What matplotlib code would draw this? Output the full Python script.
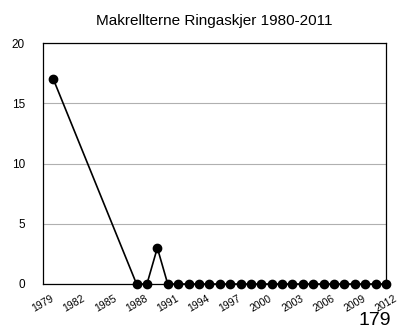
import numpy as np
import matplotlib.pyplot as plt

plt.rcParams['font.family'] = ['Liberation Sans', 'DejaVu Sans']

# counts per year
years = [1980, 1988, 1989, 1990] + list(range(1991, 2013))
counts = [17, 0, 0, 3] + [0] * 22
xtick_years = list(range(1979, 2013, 3))
ytick_vals = [0, 5, 10, 15, 20]

fig = plt.figure(figsize=(3.98, 3.32), dpi=100)
ax = fig.add_axes([0.108, 0.1446, 0.862, 0.7254])

ax.plot(years, counts, color='black', lw=1.2, marker='o', markersize=6,
        clip_on=False, zorder=3)

ax.set_xlim(1979, 2012)
ax.set_ylim(0, 20)
ax.set_yticks(ytick_vals)
ax.set_xticks(xtick_years)
ax.set_xticklabels([str(y) for y in xtick_years], rotation=30, ha='center',
                   va='center', fontsize=7.5)
ax.tick_params(axis='y', labelsize=8.5, length=0, pad=13)
ax.tick_params(axis='x', length=0, pad=14)

ax.grid(axis='y', color='#b0b0b0', lw=0.8)
ax.set_axisbelow(True)
for s in ax.spines.values():
    s.set_color('black')
    s.set_linewidth(0.9)

ax.set_title('Makrellterne Ringaskjer 1980-2011', fontsize=11, pad=13)
fig.text(0.942, 0.035, '179', fontsize=14, ha='center', va='center')

fig.savefig('out.png', dpi=100)
